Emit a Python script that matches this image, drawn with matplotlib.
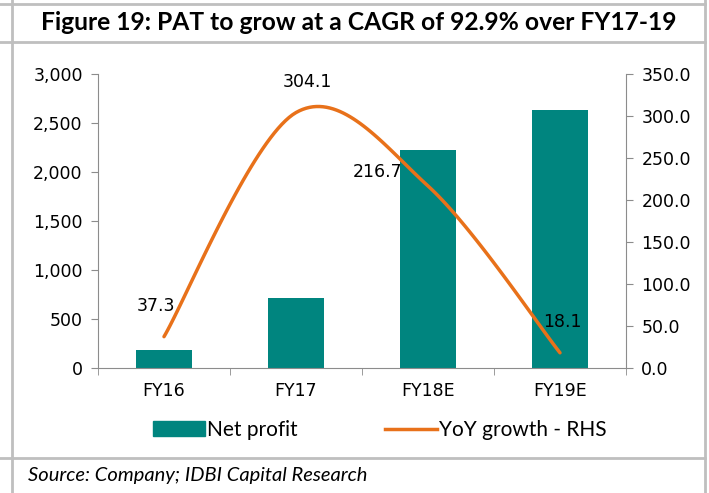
import matplotlib
matplotlib.use("Agg")
import matplotlib.pyplot as plt
from matplotlib.lines import Line2D
from matplotlib.patches import Patch
import numpy as np

# data
years = ["FY16", "FY17", "FY18E", "FY19E"]
net_profit = [184, 714, 2224, 2633]
yoy_growth = [37.3, 304.1, 216.7, 18.1]

TEAL = "#00857F"
ORANGE = "#E8711A"
GRID = "#BFBFBF"
AX = "#8C8C8C"
FS = 12.5


def smooth(xs, ys, n=40):
    # excel style smoothed line (bezier, 1/6 tangents)
    pts = np.column_stack([xs, ys]).astype(float)
    out = []
    for i in range(len(pts) - 1):
        p0 = pts[max(i - 1, 0)]
        p1 = pts[i]
        p2 = pts[i + 1]
        p3 = pts[min(i + 2, len(pts) - 1)]
        c1 = p1 + (p2 - p0) / 6
        c2 = p2 - (p3 - p1) / 6
        t = np.linspace(0, 1, n)[:, None]
        seg = (1 - t)**3 * p1 + 3 * (1 - t)**2 * t * c1 + 3 * (1 - t) * t**2 * c2 + t**3 * p2
        out.append(seg if i == 0 else seg[1:])
    out = np.vstack(out)
    return out[:, 0], out[:, 1]


fig = plt.figure(figsize=(7.09, 4.93), dpi=100)

# frame lines
W, H = 709, 493
def hline(y):
    fig.add_artist(Line2D([0, 705 / W], [1 - y / H, 1 - y / H], color=GRID, lw=2))
def vline(x):
    fig.add_artist(Line2D([x / W, x / W], [0, 1], color=GRID, lw=2))
hline(4); hline(42); hline(458)
vline(12); vline(705)

fig.text(359 / W, 1 - 23 / H, "Figure 19: PAT to grow at a CAGR of 92.9% over FY17-19",
         ha="center", va="center", fontsize=17.7, fontweight="bold", family="Lato")
fig.text(28 / W, 1 - 476 / H, "Source: Company; IDBI Capital Research",
         ha="left", va="center", fontsize=14.5, style="italic", family="Lato")

ax = fig.add_axes([98 / W, 1 - 368 / H, 528 / W, 294 / H])
x = np.arange(len(years))
ax.bar(x, net_profit, width=0.42, color=TEAL, label="Net profit", zorder=2)
ax.set_xlim(-0.5, 3.5)
ax.set_ylim(0, 3000)
ax.set_yticks(np.arange(0, 3001, 500))
ax.set_yticklabels([f"{v:,}" for v in range(0, 3001, 500)])
ax.set_xticks(x)
ax.set_xticklabels(years)
ax.set_xticks(np.arange(-0.5, 3.6, 1), minor=True)
ax.tick_params(axis="x", which="major", length=0, pad=10)
ax.tick_params(axis="x", which="minor", length=5, color=AX)
ax.tick_params(axis="y", length=5, color=AX, pad=6)
ax.tick_params(labelsize=FS)
for s in ["top", "right"]:
    ax.spines[s].set_visible(False)
ax.spines["left"].set_color(AX)
ax.spines["bottom"].set_color(AX)

ax2 = ax.twinx()
sx, sy = smooth(x, yoy_growth)
ax2.plot(sx, sy, color=ORANGE, lw=2.5, solid_capstyle="round", label="YoY growth - RHS")
ax2.set_ylim(0, 350)
ax2.set_yticks(np.arange(0, 351, 50))
ax2.set_yticklabels([f"{v:.1f}" for v in range(0, 351, 50)])
ax2.tick_params(axis="y", length=5, color=AX, labelsize=FS, pad=6)
for s in ["top", "left", "bottom"]:
    ax2.spines[s].set_visible(False)
ax2.spines["right"].set_color(AX)

offsets = [(-6, 22), (8, 22), (-36, 10), (2, 22)]
for xi, v, (dx, dy) in zip(x, yoy_growth, offsets):
    ax2.annotate(f"{v:.1f}", (xi, v), xytext=(dx, dy), textcoords="offset points",
                 ha="center", va="center", fontsize=FS)

handles = [Patch(color=TEAL, label="Net profit"),
           Line2D([0], [0], color=ORANGE, lw=2.5, label="YoY growth - RHS")]
fig.legend(handles=handles, loc="center", bbox_to_anchor=(380 / W, 1 - 430 / H),
           ncol=2, frameon=False, handlelength=2.5, handletextpad=0.1,
           columnspacing=4.2, prop={"family": "Lato", "size": 15})

fig.savefig("out.png", dpi=100)
